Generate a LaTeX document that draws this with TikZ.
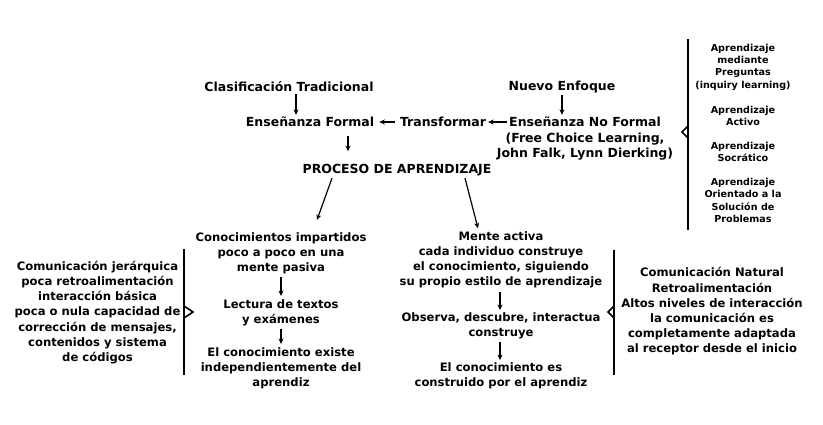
\documentclass[tikz,border=0pt]{standalone}
\usepackage{fontspec}
\setmainfont{DejaVu Sans}[BoldFont={DejaVu Sans Bold}]
\usetikzlibrary{arrows.meta,calc}
\begin{document}
\begin{tikzpicture}[x=1pt,y=-1pt,
  big/.style={font=\bfseries\fontsize{12.5}{15.5}\selectfont,align=center,inner sep=1pt},
  txt/.style={font=\bfseries\fontsize{11.6}{15.2}\selectfont,align=center,inner sep=1pt},
  small/.style={font=\bfseries\fontsize{9.6}{12.4}\selectfont,align=center,inner sep=1pt},
  arr/.style={line width=1.2pt,-{Stealth[length=5.5pt,width=5pt]}},
  brace/.style={line width=1.6pt}]
\useasboundingbox (0,0) rectangle (823,424);
% top
\node[big] (clas) at (289,87) {Clasificación Tradicional};
\node[big] (nuevo) at (562,87) {Nuevo Enfoque};
\node[big] (formal) at (310,122) {Enseñanza Formal};
\node[big] (transf) at (443,122) {Transformar};
\node[big] (noformal) at (585,122) {Enseñanza No Formal};
\node[big] (fcl) at (585,146.5) {(Free Choice Learning,\\John Falk, Lynn Dierking)};
\node[big] (proceso) at (397,170) {PROCESO DE APRENDIZAJE};
\draw[arr] ($(clas.south)+(7,1)$) -- ($(clas.south |- formal.north)+(7,-1)$);
\draw[arr] ($(nuevo.south)+(0,1)$) -- ($(nuevo.south |- noformal.north)+(0,-1)$);
\draw[arr,shorten <=1pt,shorten >=1pt] (noformal.west) -- (transf.east);
\draw[arr,shorten <=4pt,shorten >=4pt] (transf.west) -- (formal.east);
\draw[arr] ($(formal.south)+(38,8)$) -- ($(formal.south -| proceso.north)+(-49,23)$);
% right column
\node[small] (g1) at (743,67) {Aprendizaje\\mediante\\Preguntas\\(inquiry learning)};
\node[small] (g2) at (743,116) {Aprendizaje\\Activo};
\node[small] (g3) at (743,152) {Aprendizaje\\Socrático};
\node[small] (g4) at (743,200.5) {Aprendizaje\\Orientado a la\\Solución de\\Problemas};
\draw[brace] (688,39) -- (688,230);
\draw[brace] (688,126) -- (682,132) -- (688,138);
% bottom left
\node[txt] (conoc) at (281,253) {Conocimientos impartidos\\poco a poco en una\\mente pasiva};
\node[txt] (lectura) at (281,312.5) {Lectura de textos\\y exámenes};
\node[txt] (existe) at (281,368) {El conocimiento existe\\independientemente del\\aprendiz};
\node[txt] (jer) at (97.5,312.5) {Comunicación jerárquica\\poca retroalimentación\\interacción básica\\poca o nula capacidad de\\corrección de mensajes,\\contenidos y sistema\\de códigos};
\draw[arr] ($(conoc.south)+(0,2)$) -- ($(lectura.north)+(0,-2)$);
\draw[arr] ($(lectura.south)+(0,2)$) -- ($(existe.north)+(0,-2)$);
\draw[brace] (184,249) -- (184,375);
\draw[brace] (184,306) -- (193,312) -- (184,318);
% bottom middle
\node[txt] (mente) at (501,260) {Mente activa\\cada individuo construye\\el conocimiento, siguiendo\\su propio estilo de aprendizaje};
\node[txt] (observa) at (501,325.5) {Observa, descubre, interactua\\construye};
\node[txt] (construido) at (501,375.5) {El conocimiento es\\construido por el aprendiz};
\draw[arr] ($(mente.south)+(-1,2)$) -- ($(observa.north)+(-1,-1)$);
\draw[arr] ($(observa.south)+(-1,2)$) -- ($(construido.north)+(-1,-1)$);
\node[txt] (natural) at (712,311.5) {Comunicación Natural\\Retroalimentación\\Altos niveles de interacción\\la comunicación es\\completamente adaptada\\al receptor desde el inicio};
\draw[brace] (614,250) -- (614,375);
\draw[brace] (614,306) -- (608,312) -- (614,318);
% diagonal
\draw[arr] ($(proceso.south)+(-65,1)$) -- ($(conoc.north)+(36,-11)$);
\draw[arr] ($(proceso.south)+(68,1)$) -- ($(mente.north)+(-23,-2)$);
\end{tikzpicture}
\end{document}
